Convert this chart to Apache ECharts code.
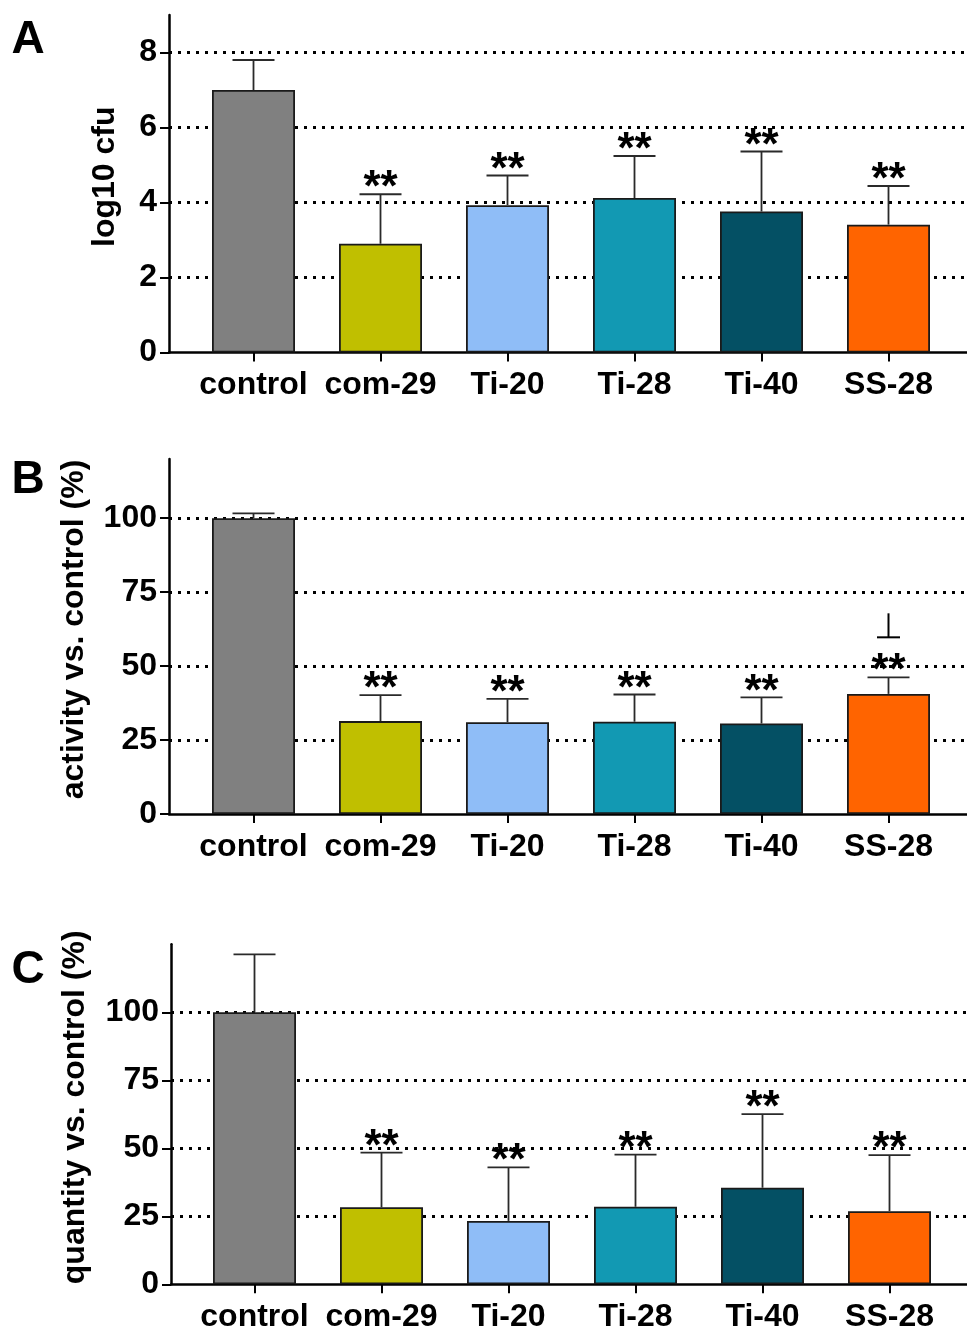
<!DOCTYPE html>
<html><head><meta charset="utf-8">
<script src="https://cdn.jsdelivr.net/npm/echarts@6/dist/echarts.min.js"></script>
<style>html,body{margin:0;padding:0;background:#fff}#c{width:967px;height:1330px}</style>
</head><body><div id="c"></div>
<script>
// ---------- data ----------
const categories = ['control', 'com-29', 'Ti-20', 'Ti-28', 'Ti-40', 'SS-28'];
const barColors = ['#808080', '#c0bf00', '#8fbdf7', '#1299b3', '#045064', '#ff6400'];

// Panel A: log10 cfu
const cfuMean   = [7.0, 2.9, 3.93, 4.12, 3.76, 3.41];
const cfuErrTop = [7.8, 4.22, 4.72, 5.24, 5.36, 4.44];
const cfuStars  = ['', '**', '**', '**', '**', '**'];
const cfuTicks  = [0, 2, 4, 6, 8];

// Panel B: activity vs. control (%)
const actMean   = [100, 31.4, 31.0, 31.2, 30.6, 40.6];
const actErrTop = [101.6, 40.2, 38.9, 40.4, 39.4, 46.2];
const actStars  = ['', '**', '**', '**', '**', '**'];
const actMarks  = [false, false, false, false, false, true]; // "⊥" marker
const pctTicks  = [0, 25, 50, 75, 100];

// Panel C: quantity vs. control (%)
const qtyMean   = [100, 28.3, 23.3, 28.5, 35.5, 26.9];
const qtyErrTop = [121.3, 48.4, 43.0, 47.7, 62.6, 47.5];
const qtyStars  = ['', '**', '**', '**', '**', '**'];

// ---------- layout ----------
const FONT = '"Liberation Sans", Arial, sans-serif';
const W = 967, SPACING = 127;
const panels = [
  { letter: 'A', letterY: 40, name: 'log10 cfu', mean: cfuMean, err: cfuErrTop, stars: cfuStars, marks: null,
    ticks: cfuTicks, max: 9, left: 169, first: 253.5, top: 15, height: 337.5, nameGap: 48 },
  { letter: 'B', letterY: 480, name: 'activity vs. control (%)', mean: actMean, err: actErrTop, stars: actStars, marks: actMarks,
    ticks: pctTicks, max: 120, left: 169, first: 253.5, top: 459, height: 355, nameGap: 79 },
  { letter: 'C', letterY: 970, name: 'quantity vs. control (%)', mean: qtyMean, err: qtyErrTop, stars: qtyStars, marks: null,
    ticks: pctTicks, max: 125, left: 171, first: 254.5, top: 944.3, height: 340, nameGap: 80 }
];
const catIdx = categories.map((c, i) => i);

const grid = [], xAxis = [], yAxis = [], series = [], graphic = [];
panels.forEach((p, i) => {
  const xMin = -(p.first - p.left) / SPACING;
  const xMax = xMin + (W - p.left) / SPACING;
  grid.push({ left: p.left, top: p.top, width: W - p.left, height: p.height, containLabel: false, outerBoundsMode: 'none' });
  xAxis.push({
    gridIndex: i, type: 'value', min: xMin, max: xMax,
    axisLine: { show: true, onZero: false, lineStyle: { color: '#000', width: 2.5 } },
    axisTick: { show: true, customValues: catIdx, length: 9, lineStyle: { color: '#000', width: 2 } },
    axisLabel: { show: true, customValues: catIdx, formatter: v => categories[Math.round(v)],
      fontFamily: FONT, fontWeight: 'bold', fontSize: 32, color: '#000', margin: 17 },
    splitLine: { show: false }
  });
  yAxis.push({
    gridIndex: i, type: 'value', min: 0, max: p.max,
    name: p.name, nameLocation: 'middle', nameRotate: 90, nameGap: p.nameGap,
    nameTextStyle: { fontFamily: FONT, fontWeight: 'bold', fontSize: 32, color: '#000', padding: [0, 0, 0, 14] },
    axisLine: { show: true, onZero: false, lineStyle: { color: '#000', width: 2.5 } },
    axisTick: { show: true, customValues: p.ticks, length: 9, lineStyle: { color: '#000', width: 2 } },
    axisLabel: { show: true, customValues: p.ticks, fontFamily: FONT, fontWeight: 'bold', fontSize: 32, color: '#000', margin: 12 },
    splitLine: { show: false }
  });
  series.push({
    type: 'bar', xAxisIndex: i, yAxisIndex: i, barWidth: 83, silent: true, z: 2,
    data: p.mean.map((m, k) => ({ value: [k, m], itemStyle: { color: barColors[k] } })),
    itemStyle: { borderColor: '#1a1a1a', borderWidth: 1.8 },
    markLine: {
      silent: true, symbol: ['none', 'none'], z: 1, label: { show: false }, animation: false,
      lineStyle: { type: [3, 6], color: '#000', width: 3, cap: 'butt' },
      data: p.ticks.filter(v => v > 0).map(v => ({ yAxis: v }))
    }
  });
  series.push({
    type: 'custom', xAxisIndex: i, yAxisIndex: i, z: 3, silent: true,
    data: p.mean.map((m, k) => [k, m, p.err[k]]),
    encode: { x: 0, y: [1, 2] },
    renderItem: (params, api) => {
      const k = params.dataIndex;
      const x = api.value(0), m = api.value(1), e = api.value(2);
      const b = api.coord([x, m]), t = api.coord([x, e]);
      const ls = { stroke: '#2a2a2a', lineWidth: 1.8 };
      const ch = [
        { type: 'line', shape: { x1: b[0], y1: b[1], x2: t[0], y2: t[1] }, style: ls },
        { type: 'line', shape: { x1: t[0] - 21, y1: t[1], x2: t[0] + 21, y2: t[1] }, style: ls }
      ];
      if (p.stars[k]) {
        ch.push({ type: 'text', x: t[0], y: t[1] - 5,
          style: { text: p.stars[k], fill: '#000', font: 'bold 44px ' + FONT, textAlign: 'center', textVerticalAlign: 'middle' } });
      }
      if (p.marks && p.marks[k]) {
        const yb = t[1] - 40;
        ch.push({ type: 'line', shape: { x1: t[0], y1: yb - 24, x2: t[0], y2: yb }, style: { stroke: '#000', lineWidth: 2 } });
        ch.push({ type: 'line', shape: { x1: t[0] - 11.5, y1: yb, x2: t[0] + 11.5, y2: yb }, style: { stroke: '#000', lineWidth: 2 } });
      }
      return { type: 'group', children: ch };
    }
  });
  graphic.push({ type: 'text', x: 28, y: p.letterY,
    style: { text: p.letter, font: 'bold 46px ' + FONT, fill: '#000', textAlign: 'center', textVerticalAlign: 'middle' } });
});

const chart = echarts.init(document.getElementById('c'), null, { renderer: 'canvas' });
chart.setOption({ backgroundColor: '#fff', animation: false, grid, xAxis, yAxis, series, graphic });
</script>
</body></html>
